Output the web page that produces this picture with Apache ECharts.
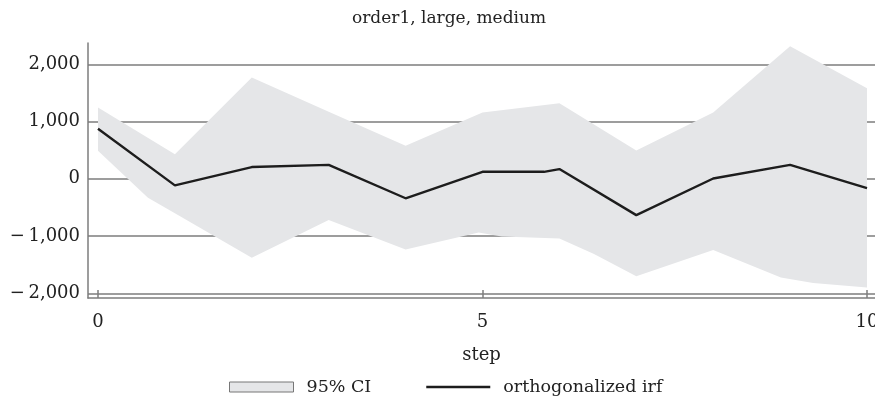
<!DOCTYPE html>
<html>
<head>
<meta charset="utf-8">
<script src="https://cdn.jsdelivr.net/npm/echarts@6/dist/echarts.min.js"></script>
<style>
  html, body { margin: 0; padding: 0; background: #fff; }
  #chart { width: 875px; height: 403px; }
</style>
</head>
<body>
<div id="chart"></div>
<script>
// Orthogonalized impulse response with its 95% confidence band
const lineSteps  = [0, 1, 2, 3, 4, 5, 5.8, 6, 7, 8, 9, 10];
const lineValues = [875, -115, 205, 244, -340, 122, 122, 170, -634, 5, 244, -162];

const upperSteps  = [0, 1, 2, 3, 4, 5, 6, 7, 8, 9, 10];
const upperValues = [1245, 430, 1768, 1172, 576, 1157, 1321, 495, 1157, 2315, 1583];

const lowerSteps  = [0, 0.65, 1, 2, 3, 4, 4.95, 5.25, 6, 6.45, 7, 8, 8.88, 9.3, 10];
const lowerValues = [489, -330, -600, -1380, -721, -1235, -937, -1008, -1041, -1315, -1700, -1245, -1722, -1820, -1897];

const xTickValues = [0, 5, 10];
const yTickValues = [-2000, -1000, 0, 1000, 2000];

const FONT = 'DejaVu Serif';
const TEXT = '#222';
const GRID = '#7d7d7d';

function fmtY(v) {
  const s = Math.abs(v).toLocaleString('en-US');
  return v < 0 ? '\u2212\u2009' + s : s;
}

const chart = echarts.init(document.getElementById('chart'), null, { renderer: 'canvas' });

chart.setOption({
  animation: false,
  backgroundColor: '#fff',
  graphic: [{
    type: 'text',
    x: 449, y: 19,
    style: {
      text: 'order1, large, medium',
      font: '17px "' + FONT + '"',
      fill: TEXT,
      textAlign: 'center',
      textVerticalAlign: 'middle'
    }
  }],
  grid: {
    left: 88, right: 0, top: 43, bottom: 105,
    outerBoundsMode: 'none'
  },
  xAxis: {
    type: 'value',
    min: -0.13, max: 10.104,
    name: 'step',
    nameLocation: 'middle',
    nameGap: 48,
    nameTextStyle: { fontFamily: FONT, fontSize: 18, color: TEXT },
    axisLine: { show: true, onZero: false, lineStyle: { color: GRID, width: 1.5 } },
    axisTick: { show: true, inside: true, length: 8, customValues: xTickValues, lineStyle: { color: GRID, width: 1.5 } },
    axisLabel: { customValues: xTickValues, fontFamily: FONT, fontSize: 18, color: TEXT, margin: 15 },
    splitLine: { show: false }
  },
  yAxis: {
    type: 'value',
    min: -2082, max: 2372,
    axisLine: { show: true, onZero: false, lineStyle: { color: GRID, width: 1.5 } },
    axisTick: { show: false, customValues: yTickValues },
    axisLabel: { customValues: yTickValues, fontFamily: FONT, fontSize: 18, color: TEXT, margin: 8, formatter: fmtY },
    splitLine: { show: true, lineStyle: { color: GRID, width: 1.5 } }
  },
  legend: {
    left: 229, top: 378, padding: 0,
    itemWidth: 64, itemHeight: 10, itemGap: 55,
    selectedMode: false,
    textStyle: { fontFamily: FONT, fontSize: 17.5, color: TEXT, padding: [0, 0, 0, 8] },
    data: [
      { name: '95% CI', icon: 'rect', itemStyle: { color: '#e5e6e8', borderColor: '#777', borderWidth: 1 } },
      { name: 'orthogonalized irf', icon: 'path://M0,0H64V2.4H0Z', itemStyle: { color: '#1d1d1d' } }
    ]
  },
  series: [
    {
      name: '95% CI',
      type: 'custom',
      z: 2,
      silent: true,
      data: [0],
      itemStyle: { color: '#e5e6e8' },
      renderItem: function (params, api) {
        const top = upperSteps.map((s, i) => api.coord([s, upperValues[i]]));
        const bottom = lowerSteps.map((s, i) => api.coord([s, lowerValues[i]])).reverse();
        return {
          type: 'polygon',
          shape: { points: top.concat(bottom) },
          style: { fill: '#e5e6e8' }
        };
      }
    },
    {
      name: 'orthogonalized irf',
      type: 'line',
      z: 3,
      silent: true,
      symbol: 'none',
      data: lineSteps.map((s, i) => [s, lineValues[i]]),
      lineStyle: { color: '#1d1d1d', width: 2.4 },
      itemStyle: { color: '#1d1d1d' }
    }
  ]
});
</script>
</body>
</html>
